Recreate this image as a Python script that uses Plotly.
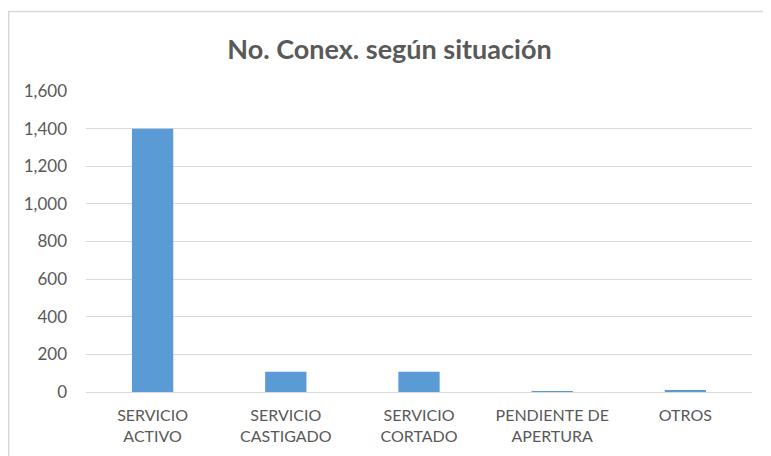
import plotly.graph_objects as go

categories = ["SERVICIO<br>ACTIVO", "SERVICIO<br>CASTIGADO", "SERVICIO<br>CORTADO",
              "PENDIENTE DE<br>APERTURA", "OTROS"]
values = [1400, 108, 107, 3, 8]
y_ticks = [0, 200, 400, 600, 800, 1000, 1200, 1400, 1600]
y_tick_labels = ["0", "200", "400", "600", "800", "1,000", "1,200", "1,400", "1,600"]
title_text = "No. Conex. según situación"

# page has an 8px body margin; figure coordinates are offset by 8px
OFF = 8
W, H = 771 - OFF, 456 - OFF
ml, mr, mt, mb = 86 - OFF, 19, 91 - OFF, 64
pw = W - ml - mr
ph = H - mt - mb

fig = go.Figure(go.Bar(x=categories, y=values, marker_color="#5B9BD5", marker_line_width=0))

fig.update_layout(
    width=W, height=H,
    margin=dict(l=ml, r=mr, t=mt, b=mb, pad=0),
    paper_bgcolor="white", plot_bgcolor="white",
    bargap=0.69,
    showlegend=False,
    font=dict(family="Lato, Carlito, Calibri, sans-serif", color="#595959"),
    title=dict(text="<b>" + title_text + "</b>", x=0.5, xanchor="center",
               y=1 - (50 - OFF) / H, yanchor="middle",
               font=dict(size=27, color="#595959", family="Lato, sans-serif")),
)
fig.update_yaxes(range=[0, 1600], tickvals=y_ticks, ticktext=y_tick_labels,
                 showgrid=True, gridcolor="#d9d9d9", gridwidth=1,
                 zeroline=False, showline=False, ticks="",
                 ticklabelstandoff=18, tickfont=dict(size=17, color="#595959"))
fig.update_xaxes(showgrid=False, showline=True, linecolor="#d9d9d9", linewidth=1,
                 ticks="", ticklabelstandoff=9,
                 tickfont=dict(size=16, color="#595959"))

# outer chart border (light gray)
bx0 = (0.75 - ml) / pw
by1 = (H - mb - (11.5 - OFF)) / ph
fig.add_shape(type="rect", xref="paper", yref="paper",
              x0=bx0, x1=2, y0=-2, y1=by1,
              line=dict(color="#d9d9d9", width=1.5), fillcolor="rgba(0,0,0,0)",
              layer="below")

fig.write_html("out.html")
